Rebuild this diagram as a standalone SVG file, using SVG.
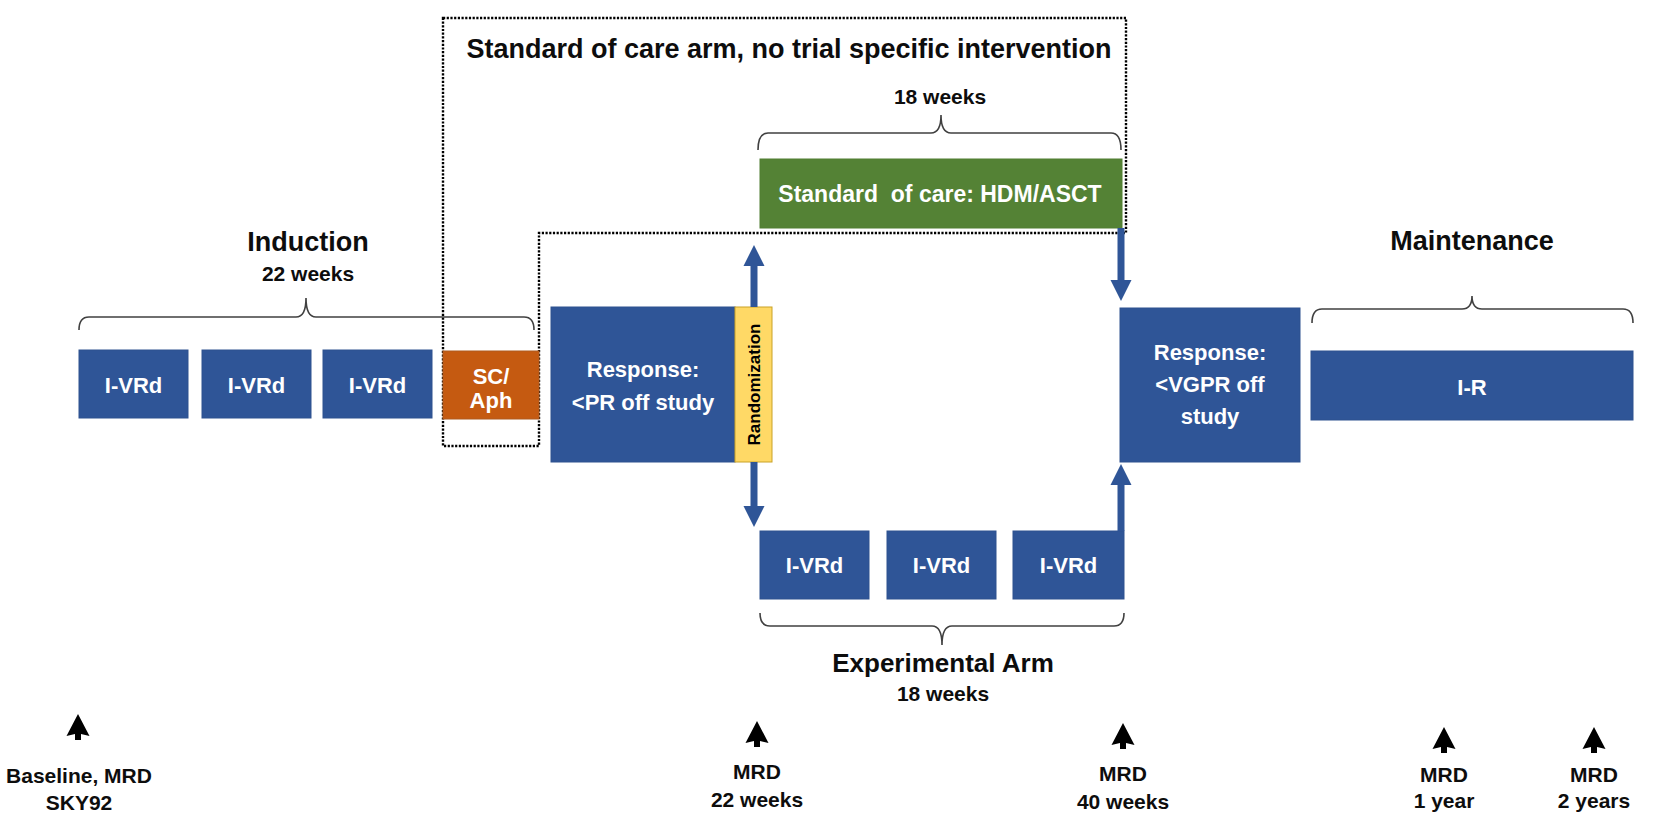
<svg xmlns="http://www.w3.org/2000/svg" width="1654" height="822" viewBox="0 0 1654 822">
<style>
text{font-family:"Liberation Sans",Arial,sans-serif;font-weight:bold}
.blue{fill:#2F5597;stroke:#2F528F;stroke-width:1}
.green{fill:#548235;stroke:#507E32;stroke-width:1}
.orange{fill:#C55A11;stroke:#AE5A21;stroke-width:1}
.yellow{fill:#FFD966;stroke:#C9A227;stroke-width:1}
.wt{fill:#FFFFFF;text-anchor:middle}
.bt{fill:#0D0D0D;text-anchor:middle}
.brace{fill:none;stroke:#404040;stroke-width:1.6}
.dotted{fill:none;stroke:#000;stroke-width:2.4;stroke-dasharray:2.2 1.5}
.barrow{stroke:#2F5597;stroke-width:7;fill:none}
.mk{fill:#000}
</style>
<defs>
<marker id="ah" viewBox="0 0 10 10" refX="0.5" refY="5" markerWidth="3" markerHeight="3.1" orient="auto" markerUnits="strokeWidth">
<path d="M0,0 L10,5 L0,10 Z" fill="#2F5597"/>
</marker>
</defs>

<g id="soc-arm-outline">
<path class="dotted" d="M443,18 L1126,18 L1126,233 L539,233 L539,446 L443,446 Z"/>
<text class="bt" x="789" y="58" font-size="27">Standard of care arm, no trial specific intervention</text>
</g>

<g id="induction-label">
<text class="bt" x="308" y="251" font-size="27">Induction</text>
<text class="bt" x="308" y="281" font-size="21">22 weeks</text>
<path class="brace" d="M79,330 Q79,317 89,317 L296,317 Q306,317 306,298 Q306,317 316,317 L524,317 Q534,317 534,330"/>
</g>

<g id="ivrd-1"><rect class="blue" x="79" y="350" width="109" height="68"/><text class="wt" x="133.5" y="393" font-size="22">I-VRd</text></g>
<g id="ivrd-2"><rect class="blue" x="202" y="350" width="109" height="68"/><text class="wt" x="256.5" y="393" font-size="22">I-VRd</text></g>
<g id="ivrd-3"><rect class="blue" x="323" y="350" width="109" height="68"/><text class="wt" x="377.5" y="393" font-size="22">I-VRd</text></g>
<g id="sc-aph"><rect class="orange" x="443" y="351" width="96" height="68"/><text class="wt" x="491" y="384" font-size="22">SC/</text><text class="wt" x="491" y="408" font-size="22">Aph</text></g>

<g id="response-pr">
<rect class="blue" x="551" y="307" width="184" height="155"/>
<text class="wt" x="643" y="377" font-size="22">Response:</text>
<text class="wt" x="643" y="410" font-size="22">&lt;PR off study</text>
</g>
<g id="randomization">
<rect class="yellow" x="735" y="307" width="37" height="155"/>
<text x="760" y="384.5" font-size="17" fill="#000" text-anchor="middle" transform="rotate(-90 760 384.5)">Randomization</text>
</g>

<g id="soc-hdm">
<text class="bt" x="940" y="104" font-size="21">18 weeks</text>
<path class="brace" d="M758,150 Q758,133 768,133 L931,133 Q941,133 941,115 Q941,133 951,133 L1111,133 Q1121,133 1121,150"/>
<rect class="green" x="760" y="159" width="362" height="69"/>
<text class="wt" x="940" y="202" font-size="23" style="white-space:pre">Standard  of care: HDM/ASCT</text>
</g>

<g id="exp-ivrd-1"><rect class="blue" x="760" y="531" width="109" height="68"/><text class="wt" x="814.5" y="573" font-size="22">I-VRd</text></g>
<g id="exp-ivrd-2"><rect class="blue" x="887" y="531" width="109" height="68"/><text class="wt" x="941.5" y="573" font-size="22">I-VRd</text></g>
<g id="exp-ivrd-3"><rect class="blue" x="1013" y="531" width="111" height="68"/><text class="wt" x="1068.5" y="573" font-size="22">I-VRd</text></g>

<g id="experimental-label">
<path class="brace" d="M760,613 Q760,626 770,626 L932,626 Q942,626 942,645 Q942,626 952,626 L1114,626 Q1124,626 1124,613"/>
<text class="bt" x="943" y="672" font-size="26">Experimental Arm</text>
<text class="bt" x="943" y="701" font-size="21">18 weeks</text>
</g>

<g id="response-vgpr">
<rect class="blue" x="1120" y="308" width="180" height="154"/>
<text class="wt" x="1210" y="360" font-size="22">Response:</text>
<text class="wt" x="1210" y="392" font-size="22">&lt;VGPR off</text>
<text class="wt" x="1210" y="424" font-size="22">study</text>
</g>

<g id="maintenance">
<text class="bt" x="1472" y="250" font-size="27">Maintenance</text>
<path class="brace" d="M1312,323 Q1312,309 1322,309 L1462,309 Q1472,309 1472,296 Q1472,309 1482,309 L1623,309 Q1633,309 1633,323"/>
<rect class="blue" x="1311" y="351" width="322" height="69"/>
<text class="wt" x="1472" y="395" font-size="22">I-R</text>
</g>

<g id="connectors">
<line class="barrow" x1="754" y1="307" x2="754" y2="265" marker-end="url(#ah)"/>
<line class="barrow" x1="754" y1="462" x2="754" y2="507" marker-end="url(#ah)"/>
<line class="barrow" x1="1121" y1="228" x2="1121" y2="281" marker-end="url(#ah)"/>
<line class="barrow" x1="1121" y1="531" x2="1121" y2="484" marker-end="url(#ah)"/>
</g>

<g id="mrd-baseline">
<path class="mk" d="M78,714 L89.5,736 L81,734 L81,740 L75,740 L75,734 L66.5,736 Z"/>
<text class="bt" x="79" y="783" font-size="21">Baseline, MRD</text>
<text class="bt" x="79" y="810" font-size="21">SKY92</text>
</g>
<g id="mrd-22w">
<path class="mk" d="M757,721 L768.5,743 L760,741 L760,747 L754,747 L754,741 L745.5,743 Z"/>
<text class="bt" x="757" y="779" font-size="21">MRD</text>
<text class="bt" x="757" y="807" font-size="21">22 weeks</text>
</g>
<g id="mrd-40w">
<path class="mk" d="M1123,723 L1134.5,745 L1126,743 L1126,749 L1120,749 L1120,743 L1111.5,745 Z"/>
<text class="bt" x="1123" y="781" font-size="21">MRD</text>
<text class="bt" x="1123" y="809" font-size="21">40 weeks</text>
</g>
<g id="mrd-1y">
<path class="mk" d="M1444,727 L1455.5,749 L1447,747 L1447,753 L1441,753 L1441,747 L1432.5,749 Z"/>
<text class="bt" x="1444" y="782" font-size="21">MRD</text>
<text class="bt" x="1444" y="808" font-size="21">1 year</text>
</g>
<g id="mrd-2y">
<path class="mk" d="M1594,727 L1605.5,749 L1597,747 L1597,753 L1591,753 L1591,747 L1582.5,749 Z"/>
<text class="bt" x="1594" y="782" font-size="21">MRD</text>
<text class="bt" x="1594" y="808" font-size="21">2 years</text>
</g>
</svg>
